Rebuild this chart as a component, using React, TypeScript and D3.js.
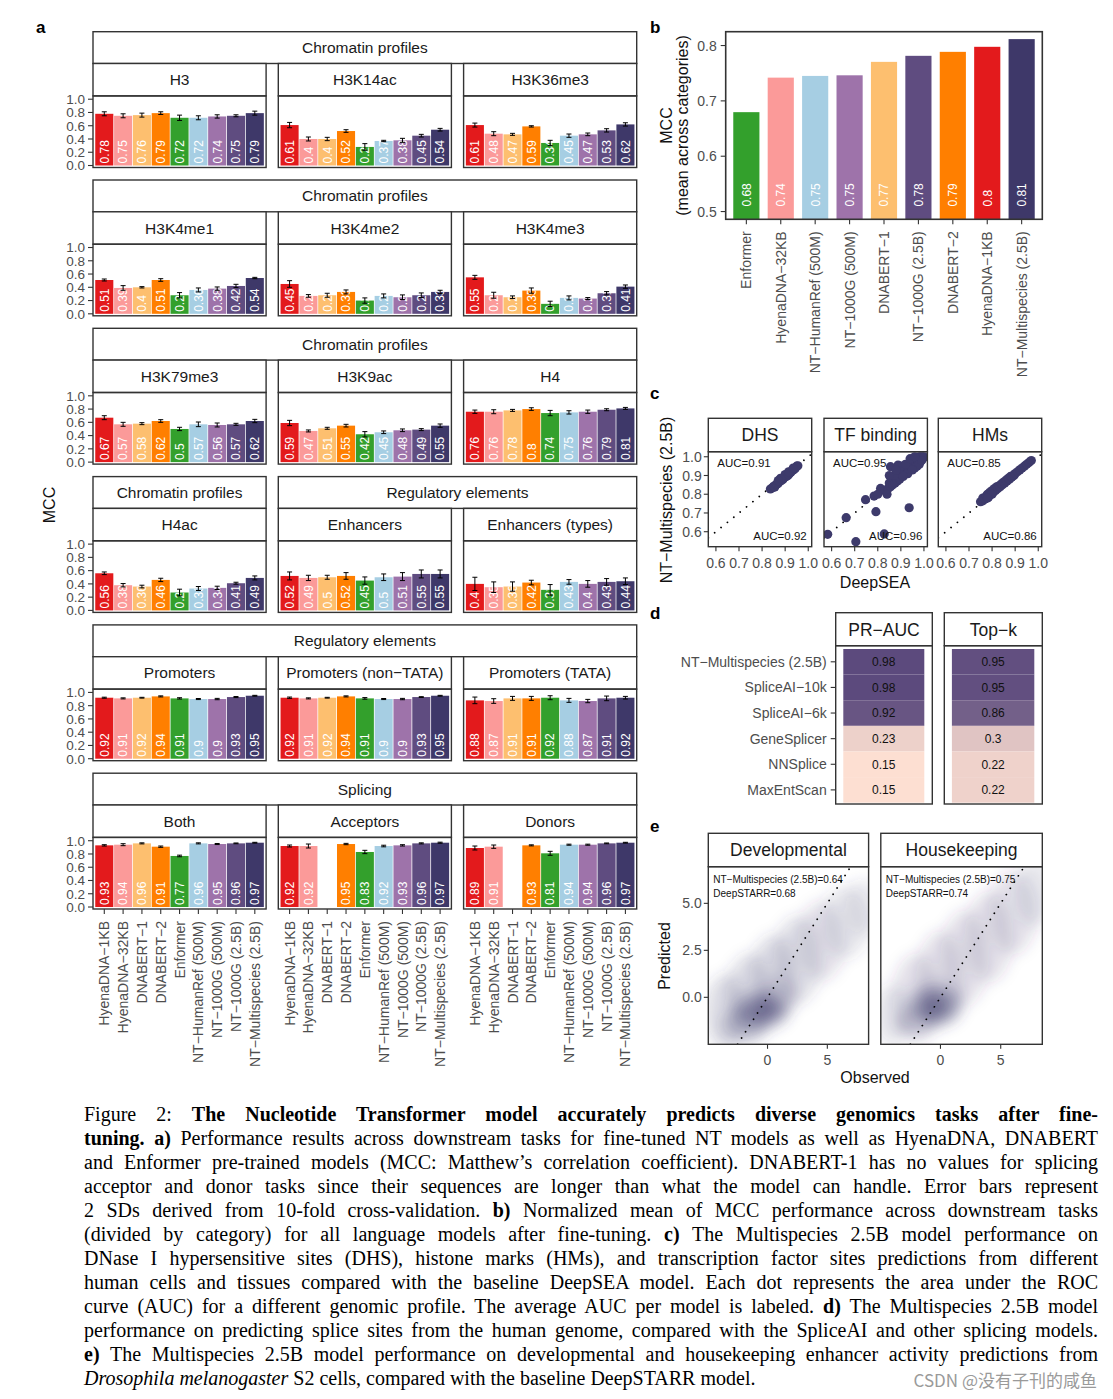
import * as d3 from "d3";
import React, { useLayoutEffect, useRef } from "react";

// ---------- shared ----------
const models = [
  "HyenaDNA−1KB", "HyenaDNA−32KB", "DNABERT−1", "DNABERT−2", "Enformer",
  "NT−HumanRef (500M)", "NT−1000G (500M)", "NT−1000G (2.5B)", "NT−Multispecies (2.5B)",
];
const modelColors = [
  "#E31A1C", "#FB9A99", "#FDBF6F", "#FF7F00", "#33A02C",
  "#A6CEE3", "#9E73AA", "#5F4C80", "#3E3869",
];

// ---------- panel a ----------
const h3 = [0.78, 0.75, 0.76, 0.79, 0.72, 0.72, 0.74, 0.75, 0.79];
const h3Err = [0.03, 0.03, 0.03, 0.02, 0.04, 0.03, 0.025, 0.015, 0.03];
const h3k14ac = [0.61, 0.4, 0.4, 0.52, 0.28, 0.37, 0.38, 0.45, 0.54];
const h3k14acErr = [0.04, 0.03, 0.025, 0.02, 0.05, 0.01, 0.03, 0.02, 0.02];
const h3k36me3 = [0.61, 0.48, 0.47, 0.59, 0.34, 0.45, 0.47, 0.53, 0.62];
const h3k36me3Err = [0.03, 0.03, 0.015, 0.01, 0.04, 0.025, 0.02, 0.025, 0.025];
const h3k4me1 = [0.51, 0.39, 0.4, 0.51, 0.28, 0.36, 0.38, 0.42, 0.54];
const h3k4me1Err = [0.015, 0.035, 0.01, 0.02, 0.04, 0.03, 0.025, 0.025, 0.01];
const h3k4me2 = [0.45, 0.27, 0.28, 0.33, 0.2, 0.27, 0.25, 0.28, 0.33];
const h3k4me2Err = [0.05, 0.02, 0.03, 0.03, 0.04, 0.03, 0.035, 0.035, 0.025];
const h3k4me3 = [0.55, 0.28, 0.25, 0.35, 0.15, 0.24, 0.23, 0.31, 0.41];
const h3k4me3Err = [0.03, 0.045, 0.02, 0.04, 0.04, 0.03, 0.015, 0.025, 0.025];
const h3k79me3 = [0.67, 0.57, 0.58, 0.62, 0.5, 0.57, 0.56, 0.57, 0.62];
const h3k79me3Err = [0.03, 0.03, 0.015, 0.02, 0.025, 0.035, 0.03, 0.015, 0.025];
const h3k9ac = [0.59, 0.47, 0.51, 0.55, 0.42, 0.45, 0.48, 0.49, 0.55];
const h3k9acErr = [0.04, 0.015, 0.015, 0.02, 0.04, 0.02, 0.02, 0.015, 0.025];
const h4 = [0.76, 0.76, 0.78, 0.8, 0.74, 0.75, 0.76, 0.79, 0.81];
const h4Err = [0.025, 0.03, 0.015, 0.02, 0.04, 0.025, 0.025, 0.015, 0.015];
const h4ac = [0.56, 0.38, 0.36, 0.46, 0.27, 0.33, 0.34, 0.41, 0.49];
const h4acErr = [0.02, 0.025, 0.02, 0.025, 0.05, 0.03, 0.025, 0.015, 0.03];
const enhancers = [0.52, 0.49, 0.5, 0.52, 0.45, 0.5, 0.51, 0.55, 0.55];
const enhancersErr = [0.06, 0.04, 0.03, 0.05, 0.055, 0.05, 0.06, 0.06, 0.06];
const enhancerTypes = [0.4, 0.35, 0.36, 0.42, 0.31, 0.43, 0.4, 0.43, 0.44];
const enhancerTypesErr = [0.1, 0.08, 0.07, 0.035, 0.08, 0.035, 0.05, 0.05, 0.05];
const promoters = [0.92, 0.91, 0.92, 0.94, 0.91, 0.9, 0.9, 0.93, 0.95];
const promotersErr = [0.008, 0.008, 0.006, 0.008, 0.01, 0.008, 0.01, 0.008, 0.006];
const promotersNonTata = [0.92, 0.91, 0.92, 0.94, 0.91, 0.9, 0.9, 0.93, 0.95];
const promotersNonTataErr = [0.01, 0.008, 0.006, 0.008, 0.012, 0.008, 0.01, 0.006, 0.006];
const promotersTata = [0.88, 0.87, 0.91, 0.91, 0.92, 0.88, 0.87, 0.91, 0.92];
const promotersTataErr = [0.05, 0.035, 0.03, 0.03, 0.03, 0.03, 0.025, 0.035, 0.02];
const splicingBoth = [0.93, 0.94, 0.96, 0.91, 0.77, 0.96, 0.95, 0.96, 0.97];
const splicingBothErr = [0.01, 0.015, 0.008, 0.01, 0.012, 0.008, 0.008, 0.006, 0.006];
const acceptors = [0.92, 0.92, null, 0.95, 0.83, 0.92, 0.93, 0.96, 0.97];
const acceptorsErr = [0.015, 0.03, null, 0.01, 0.025, 0.012, 0.01, 0.008, 0.008];
const donors = [0.89, 0.91, null, 0.93, 0.81, 0.94, 0.94, 0.96, 0.97];
const donorsErr = [0.03, 0.025, null, 0.008, 0.03, 0.008, 0.008, 0.006, 0.006];
const mccTicks = [0, 0.2, 0.4, 0.6, 0.8, 1.0];

type Task = { name: string; values: (number | null)[]; err: (number | null)[] };
type FacetRow = { groups: [string, number, number][]; tasks: Task[] };

const facetRows: FacetRow[] = [
  {
    groups: [["Chromatin profiles", 0, 2]],
    tasks: [
      { name: "H3", values: h3, err: h3Err },
      { name: "H3K14ac", values: h3k14ac, err: h3k14acErr },
      { name: "H3K36me3", values: h3k36me3, err: h3k36me3Err },
    ],
  },
  {
    groups: [["Chromatin profiles", 0, 2]],
    tasks: [
      { name: "H3K4me1", values: h3k4me1, err: h3k4me1Err },
      { name: "H3K4me2", values: h3k4me2, err: h3k4me2Err },
      { name: "H3K4me3", values: h3k4me3, err: h3k4me3Err },
    ],
  },
  {
    groups: [["Chromatin profiles", 0, 2]],
    tasks: [
      { name: "H3K79me3", values: h3k79me3, err: h3k79me3Err },
      { name: "H3K9ac", values: h3k9ac, err: h3k9acErr },
      { name: "H4", values: h4, err: h4Err },
    ],
  },
  {
    groups: [["Chromatin profiles", 0, 0], ["Regulatory elements", 1, 2]],
    tasks: [
      { name: "H4ac", values: h4ac, err: h4acErr },
      { name: "Enhancers", values: enhancers, err: enhancersErr },
      { name: "Enhancers (types)", values: enhancerTypes, err: enhancerTypesErr },
    ],
  },
  {
    groups: [["Regulatory elements", 0, 2]],
    tasks: [
      { name: "Promoters", values: promoters, err: promotersErr },
      { name: "Promoters (non−TATA)", values: promotersNonTata, err: promotersNonTataErr },
      { name: "Promoters (TATA)", values: promotersTata, err: promotersTataErr },
    ],
  },
  {
    groups: [["Splicing", 0, 2]],
    tasks: [
      { name: "Both", values: splicingBoth, err: splicingBothErr },
      { name: "Acceptors", values: acceptors, err: acceptorsErr },
      { name: "Donors", values: donors, err: donorsErr },
    ],
  },
];

// ---------- panel b ----------
const bModels = [
  "Enformer", "HyenaDNA−32KB", "NT−HumanRef (500M)", "NT−1000G (500M)", "DNABERT−1",
  "NT−1000G (2.5B)", "DNABERT−2", "HyenaDNA−1KB", "NT−Multispecies (2.5B)",
];
const bValues = [0.6796, 0.742, 0.7451, 0.7462, 0.7705, 0.7814, 0.7886, 0.7977, 0.8116];
const bTicks = [0.5, 0.6, 0.7, 0.8];

// ---------- panel c ----------
const cFacets = ["DHS", "TF binding", "HMs"];
const cNtAuc = [0.91, 0.95, 0.85];
const cDeepseaAuc = [0.92, 0.96, 0.86];
const dhsPoints = [
  [0.836, 0.828], [0.845, 0.835], [0.85, 0.842], [0.855, 0.838], [0.86, 0.85], [0.865, 0.855],
  [0.87, 0.858], [0.872, 0.866], [0.878, 0.87], [0.882, 0.872], [0.885, 0.88], [0.89, 0.878],
  [0.893, 0.886], [0.898, 0.89], [0.9, 0.897], [0.905, 0.895], [0.91, 0.905], [0.912, 0.9],
  [0.918, 0.91], [0.92, 0.915], [0.925, 0.918], [0.93, 0.925], [0.935, 0.93], [0.94, 0.935],
  [0.945, 0.94], [0.95, 0.95], [0.955, 0.952], [0.9, 0.905], [0.88, 0.885], [0.915, 0.92],
  [0.935, 0.94], [0.87, 0.873],
];
const tfPoints = [
  [0.583, 0.586], [0.663, 0.675], [0.705, 0.547], [0.747, 0.771], [0.784, 0.79], [0.792, 0.707],
  [0.828, 0.588], [0.936, 0.728], [0.855, 0.947], [0.812, 0.831], [0.8, 0.8],
  [0.83, 0.82], [0.84, 0.8], [0.845, 0.83], [0.85, 0.86], [0.855, 0.84], [0.86, 0.87],
  [0.865, 0.85], [0.87, 0.88], [0.875, 0.86], [0.88, 0.89], [0.885, 0.87], [0.89, 0.9],
  [0.888, 0.956], [0.895, 0.88], [0.9, 0.92], [0.905, 0.9], [0.91, 0.93], [0.915, 0.91],
  [0.92, 0.95], [0.925, 0.92], [0.93, 0.94], [0.935, 0.93], [0.94, 0.96], [0.945, 0.94],
  [0.946, 0.98], [0.95, 0.97], [0.955, 0.95], [0.96, 0.98], [0.965, 0.96], [0.97, 0.99],
  [0.975, 0.97], [0.98, 1.0], [0.985, 0.98], [0.99, 1.0], [0.995, 0.99], [1.0, 1.0],
  [0.96, 0.94], [0.97, 0.95], [0.98, 0.96], [0.99, 0.98], [0.93, 0.91], [0.95, 0.93],
  [0.91, 0.895], [0.87, 0.9], [0.9, 0.95], [0.92, 0.96], [0.94, 0.99], [0.96, 1.0],
  [0.85, 0.9], [0.88, 0.93],
];
const hmPoints = [
  [0.75, 0.76], [0.76, 0.765], [0.76, 0.78], [0.77, 0.775], [0.775, 0.79], [0.78, 0.8],
  [0.785, 0.785], [0.79, 0.81], [0.795, 0.8], [0.8, 0.82], [0.805, 0.81], [0.81, 0.83],
  [0.815, 0.82], [0.82, 0.84], [0.825, 0.83], [0.83, 0.845], [0.835, 0.84], [0.84, 0.855],
  [0.845, 0.85], [0.85, 0.865], [0.855, 0.86], [0.86, 0.875], [0.865, 0.87], [0.87, 0.885],
  [0.875, 0.88], [0.88, 0.895], [0.885, 0.89], [0.89, 0.9], [0.895, 0.9], [0.9, 0.91],
  [0.91, 0.92], [0.92, 0.93], [0.93, 0.94], [0.94, 0.95], [0.95, 0.96], [0.96, 0.97],
  [0.97, 0.98], [0.8, 0.8], [0.78, 0.78],
];
const cTicks = [0.6, 0.7, 0.8, 0.9, 1.0];

// ---------- panel d ----------
const dMethods = ["NT−Multispecies (2.5B)", "SpliceAI−10k", "SpliceAI−6k", "GeneSplicer", "NNSplice", "MaxEntScan"];
const dMetrics = ["PR−AUC", "Top−k"];
const prAuc = [0.98, 0.98, 0.92, 0.23, 0.15, 0.15];
const topK = [0.95, 0.95, 0.86, 0.3, 0.22, 0.22];

// ---------- panel e ----------
const eFacets = ["Developmental", "Housekeeping"];
const eNt = [0.64, 0.75];
const eDeepstarr = [0.68, 0.74];
// density cloud: [observed, predicted, spreadX, spreadY, weight]
const devCloud = [
  [-3.5, -0.8, 1.8, 2.0, 0.17], [-1.5, 0.0, 2.0, 2.3, 0.17], [0.5, 1.0, 2.0, 2.3, 0.17],
  [2.5, 2.0, 2.0, 2.3, 0.16], [4.5, 3.0, 2.0, 2.1, 0.14], [6.5, 4.0, 2.0, 1.9, 0.13],
  [8.0, 4.8, 1.5, 1.5, 0.1], [-0.5, -0.7, 2.2, 1.0, 0.36], [-0.4, -0.7, 1.2, 0.55, 0.42],
  [-2.0, -1.5, 2.0, 0.9, 0.22], [1.0, 0.0, 1.5, 1.0, 0.16],
];
const hkCloud = [
  [-4.0, -1.0, 1.6, 1.6, 0.13], [-2.0, 0.0, 2.0, 2.3, 0.14], [0.0, 1.0, 2.0, 2.5, 0.14],
  [2.0, 2.1, 2.0, 2.5, 0.14], [4.0, 3.2, 2.0, 2.4, 0.14], [6.0, 4.5, 2.0, 2.2, 0.14],
  [7.8, 5.6, 1.6, 1.8, 0.13], [-0.4, -0.4, 2.2, 1.1, 0.36], [-0.4, -0.45, 1.2, 0.6, 0.48],
  [-2.0, -1.3, 1.8, 0.8, 0.2],
];
const eYTicks = [0, 2.5, 5.0];
const eXTicks = [0, 5];

// ---------- caption ----------
const captionLines: [string, string][][] = [
  [["n", "Figure 2: "], ["b", "The Nucleotide Transformer model accurately predicts diverse genomics tasks after fine-"]],
  [["b", "tuning. a)"], ["n", " Performance results across downstream tasks for fine-tuned NT models as well as HyenaDNA, DNABERT"]],
  [["n", "and Enformer pre-trained models (MCC: Matthew’s correlation coefficient). DNABERT-1 has no values for splicing"]],
  [["n", "acceptor and donor tasks since their sequences are longer than what the model can handle. Error bars represent"]],
  [["n", "2 SDs derived from 10-fold cross-validation. "], ["b", "b)"], ["n", " Normalized mean of MCC performance across downstream tasks"]],
  [["n", "(divided by category) for all language models after fine-tuning. "], ["b", "c)"], ["n", " The Multispecies 2.5B model performance on"]],
  [["n", "DNase I hypersensitive sites (DHS), histone marks (HMs), and transcription factor sites predictions from different"]],
  [["n", "human cells and tissues compared with the baseline DeepSEA model. Each dot represents the area under the ROC"]],
  [["n", "curve (AUC) for a different genomic profile. The average AUC per model is labeled. "], ["b", "d)"], ["n", " The Multispecies 2.5B model"]],
  [["n", "performance on predicting splice sites from the human genome, compared with the SpliceAI and other splicing models."]],
  [["b", "e)"], ["n", " The Multispecies 2.5B model performance on developmental and housekeeping enhancer activity predictions from"]],
  [["i", "Drosophila melanogaster"], ["n", " S2 cells, compared with the baseline DeepSTARR model."]],
];

const SANS = "'Liberation Sans', Arial, Helvetica, sans-serif";
const LINE = "#333333";
const TICK_TEXT = "#4D4D4D";
const DOT_COLOR = "#3D3A6B";

function Strip({ x, y, w, h, label, size }: { x: number; y: number; w: number; h: number; label: string; size: number }) {
  return (
    <g>
      <rect x={x} y={y} width={w} height={h} fill="#fff" stroke={LINE} strokeWidth={1.4} />
      <text x={x + w / 2} y={y + h / 2} dy="0.36em" textAnchor="middle" fontSize={size} fill="#1A1A1A">
        {label}
      </text>
    </g>
  );
}

function RotLabel({ x, y, text, size, fill, anchor = "end" }: any) {
  return (
    <text transform={`translate(${x},${y}) rotate(-90)`} dy="0.36em" textAnchor={anchor} fontSize={size} fill={fill}>
      {text}
    </text>
  );
}

// ---------- panel a ----------
function PanelA() {
  const top0 = 31.7, pitch = 148.3, catH = 31.8, taskH = 32.4, plotH = 71.6;
  const px = [93, 278.3, 463.6], pw = 173.1;
  const fmt = d3.format(".2~f");
  const tickFmt = d3.format(".1f");
  return (
    <g>
      <text x={36} y={33} fontWeight="bold" fontSize={17}>a</text>
      <text transform="translate(55,505) rotate(-90)" textAnchor="middle" fontSize={16} fill="#111">MCC</text>
      {facetRows.map((row, r) => {
        const top = top0 + r * pitch;
        const pTop = top + catH + taskH;
        const pBot = pTop + plotH;
        const y = d3.scaleLinear().domain([-0.03, 1.05]).range([pBot, pTop]);
        const last = r === facetRows.length - 1;
        return (
          <g key={r}>
            {row.groups.map(([label, a, b], gi) => (
              <Strip key={gi} x={px[a]} y={top} w={px[b] + pw - px[a]} h={catH} label={label} size={15.5} />
            ))}
            {mccTicks.map((t) => (
              <g key={t}>
                <line x1={px[0] - 5} x2={px[0]} y1={y(t)} y2={y(t)} stroke={LINE} strokeWidth={1.1} />
                <text x={px[0] - 8} y={y(t)} dy="0.36em" textAnchor="end" fontSize={13.5} fill={TICK_TEXT}>
                  {tickFmt(t)}
                </text>
              </g>
            ))}
            {row.tasks.map((task, c) => {
              const x0 = px[c];
              const x = d3.scalePoint<string>().domain(models).range([x0, x0 + pw]).padding(0.6);
              const bw = x.step() * 0.96;
              return (
                <g key={c}>
                  <Strip x={x0} y={top + catH} w={pw} h={taskH} label={task.name} size={15.5} />
                  {models.map((m, i) => {
                    const v = task.values[i];
                    if (v == null) return null;
                    const e = task.err[i] as number;
                    const cx = x(m) as number;
                    const id = `clipA-${r}-${c}-${i}`;
                    return (
                      <g key={m}>
                        <clipPath id={id}>
                          <rect x={cx - bw / 2} y={y(v)} width={bw} height={y(0) - y(v)} />
                        </clipPath>
                        <rect x={cx - bw / 2} y={y(v)} width={bw} height={y(0) - y(v)} fill={modelColors[i]} />
                        <g clipPath={`url(#${id})`}>
                          <RotLabel x={cx} y={y(0) - 2} text={fmt(v)} size={12} fill="#fff" anchor="start" />
                        </g>
                        <line x1={cx} x2={cx} y1={y(v - e)} y2={y(v + e)} stroke="#000" strokeWidth={1} />
                        <line x1={cx - 2.5} x2={cx + 2.5} y1={y(v - e)} y2={y(v - e)} stroke="#000" strokeWidth={1} />
                        <line x1={cx - 2.5} x2={cx + 2.5} y1={y(v + e)} y2={y(v + e)} stroke="#000" strokeWidth={1} />
                      </g>
                    );
                  })}
                  <rect x={x0} y={pTop} width={pw} height={plotH} fill="none" stroke={LINE} strokeWidth={1.4} />
                  {last &&
                    models.map((m) => (
                      <g key={m}>
                        <line x1={x(m)} x2={x(m)} y1={pBot} y2={pBot + 5} stroke={LINE} strokeWidth={1.1} />
                        <RotLabel x={x(m)} y={pBot + 12} text={m} size={14} fill={TICK_TEXT} />
                      </g>
                    ))}
                </g>
              );
            })}
          </g>
        );
      })}
    </g>
  );
}

// ---------- panel b ----------
function PanelB() {
  const left = 725.7, right = 1042.3, top = 31.7, bottom = 219.3;
  const x = d3.scalePoint<string>().domain(bModels).range([left, right]).padding(0.6);
  const y = d3.scaleLinear().domain([0.486, 0.825]).range([bottom, top]);
  const bw = x.step() * 0.76;
  const fmt = d3.format(".2~f");
  return (
    <g>
      <text x={650} y={33} fontWeight="bold" fontSize={17}>b</text>
      <text transform={`translate(672,${(top + bottom) / 2}) rotate(-90)`} textAnchor="middle" fontSize={16} fill="#111">MCC</text>
      <text transform={`translate(688,${(top + bottom) / 2}) rotate(-90)`} textAnchor="middle" fontSize={16} fill="#111">
        (mean across categories)
      </text>
      {bModels.map((m, i) => {
        const cx = x(m) as number;
        const color = modelColors[models.indexOf(m)];
        return (
          <g key={m}>
            <rect x={cx - bw / 2} y={y(bValues[i])} width={bw} height={bottom - y(bValues[i])} fill={color} />
            <RotLabel x={cx} y={y(0.509)} text={fmt(bValues[i])} size={12} fill="#fff" anchor="start" />
            <line x1={cx} x2={cx} y1={bottom} y2={bottom + 5} stroke={LINE} strokeWidth={1.1} />
            <RotLabel x={cx} y={bottom + 12} text={m} size={14} fill={TICK_TEXT} />
          </g>
        );
      })}
      {bTicks.map((t) => (
        <g key={t}>
          <line x1={left - 5} x2={left} y1={y(t)} y2={y(t)} stroke={LINE} strokeWidth={1.1} />
          <text x={left - 9} y={y(t)} dy="0.36em" textAnchor="end" fontSize={14} fill={TICK_TEXT}>
            {d3.format(".1f")(t)}
          </text>
        </g>
      ))}
      <rect x={left} y={top} width={right - left} height={bottom - top} fill="none" stroke={LINE} strokeWidth={1.6} />
    </g>
  );
}

// ---------- panel c ----------
function PanelC() {
  const fx = [708.3, 824, 938.3], fw = 103.4;
  const stripTop = 418.3, stripH = 33.4, pTop = 451.7, pBot = 546.7;
  const y = d3.scaleLinear().domain([0.52, 1.027]).range([pBot, pTop]);
  const pointSets = [dhsPoints, tfPoints, hmPoints];
  return (
    <g>
      <text x={650} y={399} fontWeight="bold" fontSize={17}>c</text>
      <text transform={`translate(672,500) rotate(-90)`} textAnchor="middle" fontSize={16} fill="#111">
        NT−Multispecies (2.5B)
      </text>
      <text x={875} y={588} textAnchor="middle" fontSize={16} fill="#111">DeepSEA</text>
      {cTicks.map((t) => (
        <g key={t}>
          <line x1={fx[0] - 4.5} x2={fx[0]} y1={y(t)} y2={y(t)} stroke={LINE} strokeWidth={1.1} />
          <text x={fx[0] - 6.5} y={y(t)} dy="0.36em" textAnchor="end" fontSize={14} fill={TICK_TEXT}>
            {d3.format(".1f")(t)}
          </text>
        </g>
      ))}
      {cFacets.map((f, k) => {
        const x = d3.scaleLinear().domain([0.567, 1.015]).range([fx[k], fx[k] + fw]);
        const lo = 0.567, hi = 1.015;
        const id = `clipC-${k}`;
        return (
          <g key={f}>
            <Strip x={fx[k]} y={stripTop} w={fw} h={stripH} label={f} size={17.5} />
            <clipPath id={id}>
              <rect x={fx[k]} y={pTop} width={fw} height={pBot - pTop} />
            </clipPath>
            <g clipPath={`url(#${id})`}>
              <line x1={x(lo)} y1={y(lo)} x2={x(hi)} y2={y(hi)} stroke="#000" strokeWidth={1.8}
                strokeDasharray="0.01 8.2" strokeLinecap="round" />
              {pointSets[k].map(([a, b], i) => (
                <circle key={i} cx={x(a)} cy={y(b)} r={4.6} fill={DOT_COLOR} />
              ))}
            </g>
            <text x={fx[k] + 9} y={466.5} fontSize={11.5} fill="#111">AUC={cNtAuc[k]}</text>
            <text x={fx[k] + fw - 5} y={540} textAnchor="end" fontSize={11.5} fill="#111">AUC={cDeepseaAuc[k]}</text>
            <rect x={fx[k]} y={pTop} width={fw} height={pBot - pTop} fill="none" stroke={LINE} strokeWidth={1.4} />
            {cTicks.map((t) => (
              <g key={t}>
                <line x1={x(t)} x2={x(t)} y1={pBot} y2={pBot + 4.5} stroke={LINE} strokeWidth={1.1} />
                <text x={x(t)} y={pBot + 21.5} textAnchor="middle" fontSize={14} fill={TICK_TEXT}>
                  {d3.format(".1f")(t)}
                </text>
              </g>
            ))}
          </g>
        );
      })}
    </g>
  );
}

// ---------- panel d ----------
function PanelD() {
  const fx: [number, number][] = [[835.7, 932.3], [944.3, 1042.3]];
  const stripTop = 612.7, stripH = 33, pTop = 645.7, pBot = 804;
  const y = d3.scaleBand<string>().domain(dMethods).range([649, 802.7]);
  const color = d3.scaleLinear<string>().domain([0.15, 0.98]).range(["#FDDFD2", "#5C4A7D"]);
  const series = [prAuc, topK];
  return (
    <g>
      <text x={650} y={619} fontWeight="bold" fontSize={17}>d</text>
      {dMethods.map((m) => {
        const cy = (y(m) as number) + y.bandwidth() / 2;
        return (
          <g key={m}>
            <line x1={fx[0][0] - 5} x2={fx[0][0]} y1={cy} y2={cy} stroke={LINE} strokeWidth={1.1} />
            <text x={fx[0][0] - 9} y={cy} dy="0.36em" textAnchor="end" fontSize={14} fill={TICK_TEXT}>{m}</text>
          </g>
        );
      })}
      {dMetrics.map((metric, k) => {
        const [l, r] = fx[k];
        return (
          <g key={metric}>
            <Strip x={l} y={stripTop} w={r - l} h={stripH} label={metric} size={17.5} />
            {dMethods.map((m, i) => {
              const v = series[k][i];
              return (
                <g key={m}>
                  <rect x={l + 7.6} y={y(m)} width={r - l - 15.6} height={y.bandwidth()} fill={color(v)} />
                  <text x={(l + 7.6 + r - 8) / 2} y={(y(m) as number) + y.bandwidth() / 2} dy="0.36em"
                    textAnchor="middle" fontSize={12} fill="#111">{v}</text>
                </g>
              );
            })}
            <rect x={l} y={pTop} width={r - l} height={pBot - pTop} fill="none" stroke={LINE} strokeWidth={1.4} />
          </g>
        );
      })}
    </g>
  );
}

// ---------- panel e ----------
function PanelE() {
  const fx: [number, number][] = [[708.3, 868.6], [880.8, 1042.3]];
  const stripTop = 833.3, stripH = 33.4, pTop = 866.7, pBot = 1044.3;
  const y = d3.scaleLinear().domain([-2.5, 6.95]).range([pBot, pTop]);
  const clouds = [devCloud, hkCloud];
  return (
    <g>
      <defs>
        <filter id="cloudBlur" x="-50%" y="-50%" width="200%" height="200%">
          <feGaussianBlur stdDeviation="7" />
        </filter>
      </defs>
      <text x={650} y={832} fontWeight="bold" fontSize={17}>e</text>
      <text transform={`translate(670,956) rotate(-90)`} textAnchor="middle" fontSize={16} fill="#111">Predicted</text>
      <text x={875} y={1083} textAnchor="middle" fontSize={16} fill="#111">Observed</text>
      {eYTicks.map((t) => (
        <g key={t}>
          <line x1={fx[0][0] - 4.5} x2={fx[0][0]} y1={y(t)} y2={y(t)} stroke={LINE} strokeWidth={1.1} />
          <text x={fx[0][0] - 6.5} y={y(t)} dy="0.36em" textAnchor="end" fontSize={14} fill={TICK_TEXT}>
            {d3.format(".1f")(t)}
          </text>
        </g>
      ))}
      {eFacets.map((f, k) => {
        const [l, r] = fx[k];
        const x = d3.scaleLinear().domain([-4.95, 8.45]).range([l, r]);
        const kx = x(1) - x(0), ky = y(0) - y(1);
        const id = `clipE-${k}`;
        return (
          <g key={f}>
            <Strip x={l} y={stripTop} w={r - l} h={stripH} label={f} size={17.5} />
            <clipPath id={id}>
              <rect x={l} y={pTop} width={r - l} height={pBot - pTop} />
            </clipPath>
            <g clipPath={`url(#${id})`}>
              <g filter="url(#cloudBlur)">
                {clouds[k].map(([cx, cy, sx, sy, w], i) => (
                  <ellipse key={i} cx={x(cx)} cy={y(cy)} rx={sx * kx} ry={sy * ky} fill={DOT_COLOR} fillOpacity={w} />
                ))}
              </g>
              <line x1={x(-2.5)} y1={y(-2.5)} x2={x(6.95)} y2={y(6.95)} stroke="#000" strokeWidth={1.8}
                strokeDasharray="0.01 7.4" strokeLinecap="round" />
            </g>
            <text x={l + 5} y={883} fontSize={10} fill="#111">NT−Multispecies (2.5B)={eNt[k]}</text>
            <text x={l + 5} y={896.5} fontSize={10} fill="#111">DeepSTARR={eDeepstarr[k]}</text>
            <rect x={l} y={pTop} width={r - l} height={pBot - pTop} fill="none" stroke={LINE} strokeWidth={1.4} />
            {eXTicks.map((t) => (
              <g key={t}>
                <line x1={x(t)} x2={x(t)} y1={pBot} y2={pBot + 4.5} stroke={LINE} strokeWidth={1.1} />
                <text x={x(t)} y={pBot + 21} textAnchor="middle" fontSize={14} fill={TICK_TEXT}>{t}</text>
              </g>
            ))}
          </g>
        );
      })}
    </g>
  );
}

// ---------- caption ----------
function Caption() {
  const ref = useRef<SVGGElement>(null);
  const left = 84, width = 1014;
  useLayoutEffect(() => {
    const g = ref.current;
    if (!g) return;
    g.querySelectorAll("text[data-justify='1']").forEach((node) => {
      const t = node as SVGTextElement;
      const len = t.getComputedTextLength();
      const spaces = ((t.textContent || "").match(/ /g) || []).length;
      if (spaces > 0) t.setAttribute("word-spacing", String((width - len) / spaces));
    });
  }, []);
  return (
    <g ref={ref} fontFamily="'Liberation Serif', 'DejaVu Serif', serif" fontSize={20} fill="#000">
      {captionLines.map((parts, i) => (
        <text key={i} x={left} y={1121 + i * 24} data-justify={i < captionLines.length - 1 ? "1" : "0"}>
          {parts.map(([style, s], j) => (
            <tspan key={j} fontWeight={style === "b" ? "bold" : "normal"} fontStyle={style === "i" ? "italic" : "normal"}>
              {s}
            </tspan>
          ))}
        </text>
      ))}
      <text x={1097} y={1387} textAnchor="end" fontSize={17} fill="#9A9A9A"
        fontFamily="'Noto Sans CJK SC', 'Noto Sans', sans-serif">CSDN @没有子刊的咸鱼</text>
    </g>
  );
}

export default function App() {
  return (
    <svg width={1113} height={1399} style={{ position: "absolute", left: 0, top: 0, background: "#fff" }} fontFamily={SANS}>
      <rect width={1113} height={1399} fill="#fff" />
      <PanelA />
      <PanelB />
      <PanelC />
      <PanelD />
      <PanelE />
      <Caption />
    </svg>
  );
}
